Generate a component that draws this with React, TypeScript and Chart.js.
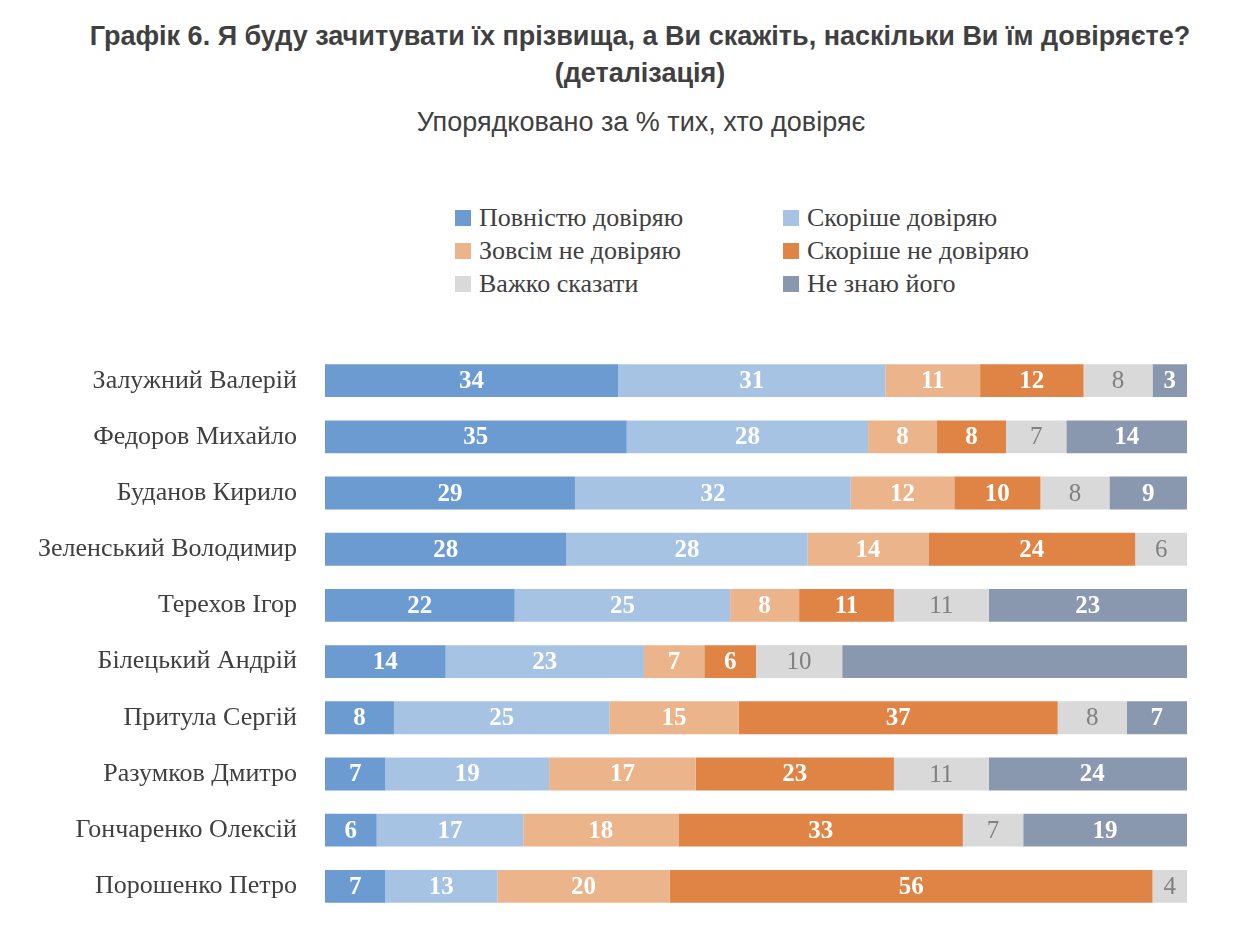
import React, { useEffect, useRef } from "react";
import { Chart, registerables } from "chart.js";
Chart.register(...registerables);

const categories = ["Залужний Валерій","Федоров Михайло","Буданов Кирило","Зеленський Володимир","Терехов Ігор","Білецький Андрій","Притула Сергій","Разумков Дмитро","Гончаренко Олексій","Порошенко Петро"];
const fullyTrust = [34,35,29,28,22,14,8,7,6,7];
const ratherTrust = [31,28,32,28,25,23,25,19,17,13];
const notAtAll = [11,8,12,14,8,7,15,17,18,20];
const ratherNot = [12,8,10,24,11,6,37,23,33,56];
const hardToSay = [8,7,8,6,11,10,8,11,7,4];
const dontKnow = [4,14,9,0,23,40,7,24,19,0];
const dontKnowLabels = ["3","14","9","","23","","7","24","19",""];

const series = [
  { label: "Повністю довіряю", data: fullyTrust, color: "#6C9BD2", text: "#ffffff", bold: true },
  { label: "Скоріше довіряю", data: ratherTrust, color: "#A7C3E4", text: "#ffffff", bold: true },
  { label: "Зовсім не довіряю", data: notAtAll, color: "#EBB48B", text: "#ffffff", bold: true },
  { label: "Скоріше не довіряю", data: ratherNot, color: "#E08446", text: "#ffffff", bold: true },
  { label: "Важко сказати", data: hardToSay, color: "#D9D9D9", text: "#808080", bold: false },
  { label: "Не знаю його", data: dontKnow, color: "#8A98AF", text: "#ffffff", bold: true },
];

export default function App() {
  const ref = useRef<HTMLCanvasElement>(null);
  useEffect(() => {
    const labelPlugin = {
      id: "labels",
      afterDatasetsDraw(chart: any) {
        const ctx = chart.ctx;
        chart.data.datasets.forEach((ds: any, di: number) => {
          const meta = chart.getDatasetMeta(di);
          meta.data.forEach((bar: any, i: number) => {
            const v = ds.data[i];
            if (!v) return;
            const txt = di === 5 ? dontKnowLabels[i] : String(v);
            if (!txt) return;
            const s = series[di];
            ctx.save();
            ctx.fillStyle = s.text;
            ctx.font = `${s.bold ? "bold " : ""}25px "Liberation Serif"`;
            ctx.textAlign = "center";
            ctx.textBaseline = "middle";
            ctx.fillText(txt, (bar.x + bar.base) / 2, bar.y + 1);
            ctx.restore();
          });
        });
      },
    };
    const chart = new Chart(ref.current!, {
      type: "bar",
      data: {
        labels: categories,
        datasets: series.map((s) => ({
          label: s.label, data: s.data, backgroundColor: s.color,
          barPercentage: 0.585, categoryPercentage: 1, borderWidth: 0,
        })),
      },
      options: {
        indexAxis: "y",
        animation: false,
        responsive: true,
        maintainAspectRatio: false,
        layout: { padding: { left: 0, right: 13, top: 0, bottom: 0 } },
        plugins: { legend: { display: false }, tooltip: { enabled: false } },
        scales: {
          x: { stacked: true, min: 0, max: 100, display: false },
          y: {
            stacked: true,
            grid: { display: false },
            border: { display: false },
            ticks: { color: "#404040", font: { family: "Liberation Serif", size: 26 }, padding: 20 },
            afterFit: (s: any) => { s.width = 325; },
          },
        },
      },
      plugins: [labelPlugin],
    });
    return () => chart.destroy();
  }, []);

  const legendPos = [
    { x: 455, y: 218 }, { x: 783, y: 218 },
    { x: 455, y: 251 }, { x: 783, y: 251 },
    { x: 455, y: 284 }, { x: 783, y: 284 },
  ];
  return (
    <div style={{ position: "absolute", left: 0, top: 0, width: 1234, height: 950, background: "#fff", overflow: "hidden" }}>
      <div style={{ position: "absolute", top: 18, left: 0, width: 1280, textAlign: "center", fontFamily: "Liberation Sans, Arial", fontWeight: "bold", fontSize: 27, color: "#404040", lineHeight: "37px" }}>
        Графік 6. Я буду зачитувати їх прізвища, а Ви скажіть, наскільки Ви їм довіряєте?<br />(деталізація)
      </div>
      <div style={{ position: "absolute", top: 107, left: 0, width: 1282, textAlign: "center", fontFamily: "Liberation Sans, Arial", fontSize: 27, color: "#404040" }}>
        Упорядковано за % тих, хто довіряє
      </div>
      {series.map((s, i) => {
        const p = legendPos[i];
        return (
          <div key={i} style={{ position: "absolute", left: p.x, top: p.y - 15, display: "flex", alignItems: "center", fontFamily: "Liberation Serif", fontSize: 26, color: "#404040", lineHeight: "30px" }}>
            <span style={{ display: "inline-block", width: 16, height: 16, background: s.color, marginRight: 8 }} />
            {s.label}
          </div>
        );
      })}
      <div style={{ position: "absolute", left: 0, top: 317, width: 1200, height: 633 }}>
        <canvas ref={ref} />
      </div>
    </div>
  );
}
